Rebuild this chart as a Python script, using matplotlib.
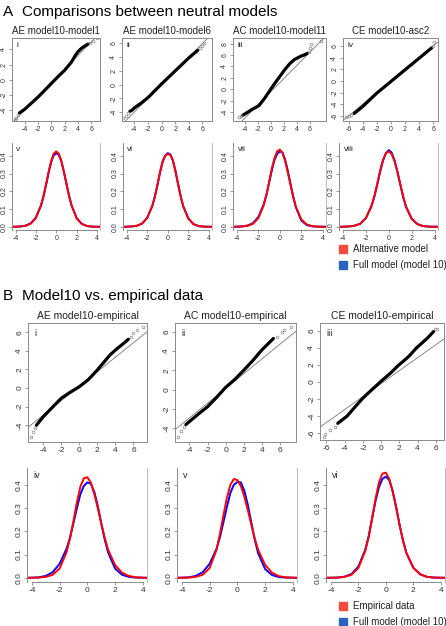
import numpy as np
import matplotlib
matplotlib.use("Agg")
import matplotlib.pyplot as plt
from matplotlib.patches import Rectangle

# ---- QQ data (dense part + sparse tail points) ----
qqA_titles = ["AE model10-model1", "AE model10-model6", "AC model10-model11", "CE model10-asc2"]
qqA_tags = ["i", "ii", "iii", "iv"]
qqA_x = [[-4.8, -4.0, -3.0, -2.0, -1.0, 0.0, 1.0, 2.0, 3.0, 3.6, 4.0, 4.6, 5.5],
         [-4.65, -4.3, -4.0, -3.0, -2.0, -1.0, 0.0, 1.0, 2.0, 3.0, 4.0, 5.3],
         [-4.4, -3.0, -1.9, -1.0, 0.0, 1.0, 2.1, 2.9, 3.6, 4.6, 5.3, 5.6],
         [-5.2, -4.0, -2.0, 0.0, 2.0, 4.0, 5.8]]
qqA_y = [[-4.4, -3.9, -3.1, -2.3, -1.4, -0.5, 0.4, 1.25, 2.3, 3.2, 3.7, 4.2, 4.7],
         [-3.9, -3.7, -3.4, -2.7, -1.9, -0.9, 0.1, 1.05, 2.0, 2.95, 3.9, 5.0],
         [-4.6, -3.6, -2.9, -1.6, 0.1, 1.7, 3.4, 4.5, 5.2, 5.8, 6.1, 6.3],
         [-5.6, -4.4, -2.1, -0.1, 1.9, 3.9, 5.7]]
qqA_tail_x = [[-5.5, -5.3, -5.0, 5.8, 6.2, 6.9],
              [-5.6, -5.2, -4.9, 5.6, 6.0, 6.2],
              [-4.9, -4.7, 5.8, 6.0, 6.2, 7.8],
              [-6.4, -6.0, -5.6, 6.0, 6.2]]
qqA_tail_y = [[-5.2, -5.0, -4.7, 4.9, 5.1, 5.5],
              [-4.8, -4.5, -4.1, 5.3, 5.7, 6.0],
              [-4.9, -4.8, 6.6, 7.2, 7.9, 8.4],
              [-6.2, -6.0, -5.8, 6.1, 6.7]]
qqA_line = [(0.9, -0.4), (1.0, 0.0), (1.15, -0.4), (1.0, 0.0)]
qqA_xticks = [[-4, -2, 0, 2, 4, 6]] * 3 + [[-6, -4, -2, 0, 2, 4, 6]]
qqA_yticks = [[-4, -2, 0, 2, 4], [-4, -2, 0, 2, 4, 6],
              [-4, -2, 0, 2, 4, 6, 8], [-6, -4, -2, 0, 2, 4, 6]]
qqA_xlim = [(-5.9, 7.3), (-5.8, 7.4), (-5.9, 8.5), (-6.8, 6.7)]
qqA_ylim = [(-5.45, 5.5), (-5.3, 6.8), (-5.6, 9.0), (-6.9, 7.4)]

qqB_titles = ["AE model10-empirical", "AC model10-empirical", "CE model10-empirical"]
qqB_tags = ["i", "ii", "iii"]
qqB_x = [[-4.74, -4.0, -3.0, -2.0, -1.0, 0.0, 1.0, 2.0, 3.4, 4.2, 4.9, 5.44],
         [-4.4, -3.0, -2.0, -1.0, 0.0, 1.0, 2.0, 3.0, 4.0, 5.3],
         [-4.75, -3.73, -3.0, -2.0, -1.0, 0.0, 1.0, 1.86, 3.0, 3.9, 5.1, 5.76]]
qqB_y = [[-4.0, -3.1, -2.1, -1.1, -0.45, 0.14, 0.9, 1.94, 3.56, 4.25, 4.8, 5.25],
         [-3.6, -2.5, -1.76, -0.8, 0.24, 1.05, 2.0, 3.0, 4.1, 5.3],
         [-4.85, -4.0, -3.1, -1.9, -0.9, 0.08, 1.0, 1.9, 2.95, 4.0, 5.15, 5.9]]
qqB_tail_x = [[-5.3, -5.1, -4.9, 5.7, 6.0, 6.37, 7.1],
              [-5.3, -4.9, -4.6, 5.7, 6.2, 6.5, 7.3],
              [-6.3, -6.1, -5.6, -5.1, 5.9, 6.1]]
qqB_tail_y = [[-5.25, -4.7, -4.3, 5.5, 5.9, 6.2, 6.55],
              [-4.9, -4.3, -3.9, 5.5, 6.0, 6.2, 6.45],
              [-6.4, -6.1, -5.6, -5.3, 6.2, 6.2]]
qqB_line = [(0.78, 0.2), (0.76, 0.13), (0.76, -0.2)]
qqB_xticks = [[-4, -2, 0, 2, 4, 6]] * 2 + [[-6, -4, -2, 0, 2, 4, 6]]
qqB_yticks = [[-4, -2, 0, 2, 4, 6]] * 2 + [[-6, -4, -2, 0, 2, 4, 6]]
qqB_xlim = [(-5.67, 7.5), (-5.6, 7.8), (-6.7, 6.9)]
qqB_ylim = [(-5.8, 7.0), (-5.4, 6.9), (-6.8, 6.9)]

# ---- density curves ----
dens_x = [-4.3, -3.5, -3.0, -2.5, -2.0, -1.5, -1.25, -1.0, -0.75, -0.5, -0.25, 0.0,
          0.25, 0.5, 0.75, 1.0, 1.25, 1.5, 2.0, 2.5, 3.0, 3.5, 4.3]
densA_tags = ["v", "vi", "vii", "viii"]
densA_red = [
    [0, 0.002, 0.006, 0.018, 0.05, 0.12, 0.175, 0.24, 0.31, 0.37, 0.412, 0.425, 0.412, 0.37, 0.31, 0.24, 0.175, 0.12, 0.048, 0.016, 0.005, 0.001, 0],
    [0, 0.002, 0.006, 0.018, 0.05, 0.118, 0.172, 0.238, 0.31, 0.37, 0.4, 0.41, 0.405, 0.372, 0.312, 0.24, 0.172, 0.115, 0.046, 0.015, 0.004, 0.001, 0],
    [0, 0.002, 0.006, 0.016, 0.048, 0.12, 0.178, 0.25, 0.325, 0.385, 0.425, 0.435, 0.418, 0.37, 0.305, 0.235, 0.168, 0.112, 0.042, 0.014, 0.004, 0.001, 0],
    [0, 0.002, 0.006, 0.017, 0.049, 0.12, 0.175, 0.245, 0.318, 0.378, 0.415, 0.425, 0.41, 0.37, 0.31, 0.24, 0.172, 0.115, 0.046, 0.015, 0.004, 0.001, 0]]
densA_blue = [
    [0, 0.002, 0.007, 0.02, 0.053, 0.12, 0.172, 0.235, 0.305, 0.365, 0.402, 0.415, 0.405, 0.37, 0.31, 0.245, 0.178, 0.122, 0.05, 0.017, 0.005, 0.001, 0],
    [0, 0.002, 0.006, 0.018, 0.05, 0.118, 0.17, 0.235, 0.305, 0.365, 0.4, 0.415, 0.408, 0.375, 0.315, 0.243, 0.174, 0.117, 0.047, 0.015, 0.004, 0.001, 0],
    [0, 0.002, 0.007, 0.02, 0.055, 0.125, 0.178, 0.245, 0.315, 0.375, 0.41, 0.425, 0.418, 0.378, 0.315, 0.242, 0.17, 0.11, 0.036, 0.01, 0.003, 0.001, 0],
    [0, 0.002, 0.006, 0.017, 0.049, 0.118, 0.172, 0.24, 0.312, 0.374, 0.414, 0.432, 0.418, 0.375, 0.312, 0.24, 0.17, 0.113, 0.045, 0.015, 0.004, 0.001, 0]]
densB_tags = ["iv", "v", "vi"]
densB_red = [
    [0, 0.001, 0.004, 0.013, 0.04, 0.11, 0.17, 0.245, 0.325, 0.392, 0.428, 0.432, 0.41, 0.36, 0.3, 0.235, 0.172, 0.12, 0.055, 0.022, 0.008, 0.002, 0],
    [0, 0.001, 0.004, 0.013, 0.042, 0.12, 0.19, 0.27, 0.345, 0.4, 0.425, 0.42, 0.395, 0.35, 0.292, 0.23, 0.17, 0.12, 0.056, 0.022, 0.007, 0.002, 0],
    [0, 0.001, 0.004, 0.013, 0.042, 0.115, 0.175, 0.255, 0.34, 0.41, 0.448, 0.452, 0.425, 0.37, 0.3, 0.225, 0.158, 0.105, 0.043, 0.015, 0.004, 0.001, 0],
]
densB_blue = [
    [0, 0.002, 0.008, 0.024, 0.06, 0.125, 0.172, 0.235, 0.3, 0.36, 0.395, 0.41, 0.405, 0.37, 0.31, 0.235, 0.165, 0.108, 0.04, 0.013, 0.004, 0.001, 0],
    [0, 0.002, 0.008, 0.024, 0.06, 0.125, 0.175, 0.24, 0.305, 0.365, 0.4, 0.412, 0.41, 0.375, 0.315, 0.24, 0.165, 0.105, 0.038, 0.012, 0.003, 0.001, 0],
    [0, 0.001, 0.005, 0.016, 0.048, 0.12, 0.178, 0.255, 0.33, 0.39, 0.425, 0.435, 0.42, 0.372, 0.305, 0.228, 0.16, 0.106, 0.043, 0.015, 0.004, 0.001, 0],
]
legA_labels = ["Alternative model", "Full model (model 10)"]
legB_labels = ["Empirical data", "Full model (model 10)"]

plt.rcParams['font.family'] = ['Liberation Sans', 'DejaVu Sans']
plt.rcParams['axes.unicode_minus'] = False

W, H = 446, 626
fig = plt.figure(figsize=(W / 100, H / 100), dpi=100)

TXT = "#333333"
FRAME = "#8a8a8a"


def px_axes(left, top, right, bottom):
    return fig.add_axes([left / W, 1 - bottom / H, (right - left) / W, (bottom - top) / H])


def style_ticks(ax, fs):
    ax.tick_params(axis="both", length=2.2, width=0.6, color=FRAME, labelcolor=TXT,
                   labelsize=fs, pad=1.2)
    for lab in ax.get_yticklabels():
        lab.set_rotation(90)
        lab.set_va("center")


def qq_panel(box, title, tag, x, y, tx, ty, line, xt, yt, xl, yl, fs, tfs):
    ax = px_axes(*box)
    ax.plot(x, y, color="black", lw=2.3, solid_capstyle="round", zorder=3)
    ax.plot(tx, ty, "o", ms=2, mfc="none", mec="#888888", mew=0.5, zorder=3)
    xx = np.array(xl)
    ax.plot(xx, line[0] * xx + line[1], color="#777777", lw=0.6, zorder=2)
    ax.set_xlim(xl)
    ax.set_ylim(yl)
    ax.set_xticks(xt)
    ax.set_yticks(yt)
    for s in ax.spines.values():
        s.set_color(FRAME)
        s.set_linewidth(0.7)
    style_ticks(ax, fs)
    ax.set_title(title, fontsize=tfs, color="#222222", pad=3)
    ax.text(0.05, 0.95, tag, transform=ax.transAxes, fontsize=tfs - 1, color="#222222",
            va="top", ha="left")
    return ax


def dens_panel(box, tag, red, blue, fs, tfs):
    ax = px_axes(*box)
    ax.plot(dens_x, blue, color="#0000ff", lw=1.4)
    ax.plot(dens_x, red, color="#ff0000", lw=1.4)
    ax.set_xlim(-4.35, 4.3)
    ax.set_ylim(-0.018, 0.472)
    ax.set_xticks([-4, -2, 0, 2, 4])
    ax.set_yticks([0, 0.1, 0.2, 0.3, 0.4])
    ax.set_yticklabels(["0.0", "0.1", "0.2", "0.3", "0.4"])
    ax.spines["top"].set_visible(False)
    ax.spines["bottom"].set_bounds(-4, 4)
    ax.spines["bottom"].set_color(FRAME)
    ax.spines["left"].set_color(FRAME)
    ax.spines["right"].set_color("#bbbbbb")
    for s in ax.spines.values():
        s.set_linewidth(0.7)
    style_ticks(ax, fs)
    ax.text(0.05, 0.97, tag, transform=ax.transAxes, fontsize=tfs - 1, color="#222222",
            va="top", ha="left")
    return ax


def legend_rows(y0, labels):
    cols = ["#f24c3d", "#2a64c0"]
    for k, lab in enumerate(labels):
        yc = y0 + 16 * k
        fig.patches.append(Rectangle((339 / W, 1 - (yc + 4) / H), 8 / W, 8 / H,
                                     transform=fig.transFigure, color=cols[k]))
        fig.text(353 / W, 1 - yc / H, lab, fontsize=7, va="center", color="#222222")


# ---- panel A ----
fig.text(3 / W, 1 - 12 / H, "A", fontsize=11, va="center", ha="left")
fig.text(22 / W, 1 - 12 / H, "Comparisons between neutral models", fontsize=11,
         va="center", ha="left")
qqA_boxes = [(12, 38, 100, 121), (122, 38, 212, 121), (233, 38, 326, 121), (343, 38, 438, 121)]
for i in range(4):
    qq_panel(qqA_boxes[i], qqA_titles[i], qqA_tags[i], qqA_x[i], qqA_y[i],
             qqA_tail_x[i], qqA_tail_y[i], qqA_line[i], qqA_xticks[i], qqA_yticks[i],
             qqA_xlim[i], qqA_ylim[i], 5.0, 7)
densA_boxes = [(12, 143, 100, 230), (123, 143, 212, 230), (233, 143, 326, 230), (339, 143, 438, 230)]
for i in range(4):
    dens_panel(densA_boxes[i], densA_tags[i], densA_red[i], densA_blue[i], 5.0, 7)
legend_rows(249, legA_labels)

# ---- panel B ----
fig.text(3 / W, 1 - 296 / H, "B", fontsize=11, va="center", ha="left")
fig.text(22 / W, 1 - 296 / H, "Model10 vs. empirical data", fontsize=11,
         va="center", ha="left")
qqB_boxes = [(28, 323, 147, 442), (175, 323, 296, 442), (320, 323, 444, 440)]
for i in range(3):
    qq_panel(qqB_boxes[i], qqB_titles[i], qqB_tags[i], qqB_x[i], qqB_y[i],
             qqB_tail_x[i], qqB_tail_y[i], qqB_line[i], qqB_xticks[i], qqB_yticks[i],
             qqB_xlim[i], qqB_ylim[i], 6.0, 7.5)
densB_boxes = [(27, 468, 147, 582), (177, 468, 297, 582), (326, 468, 445, 582)]
for i in range(3):
    dens_panel(densB_boxes[i], densB_tags[i], densB_red[i], densB_blue[i], 6.0, 7.5)
legend_rows(606, legB_labels)

fig.savefig("out.png", dpi=100)
